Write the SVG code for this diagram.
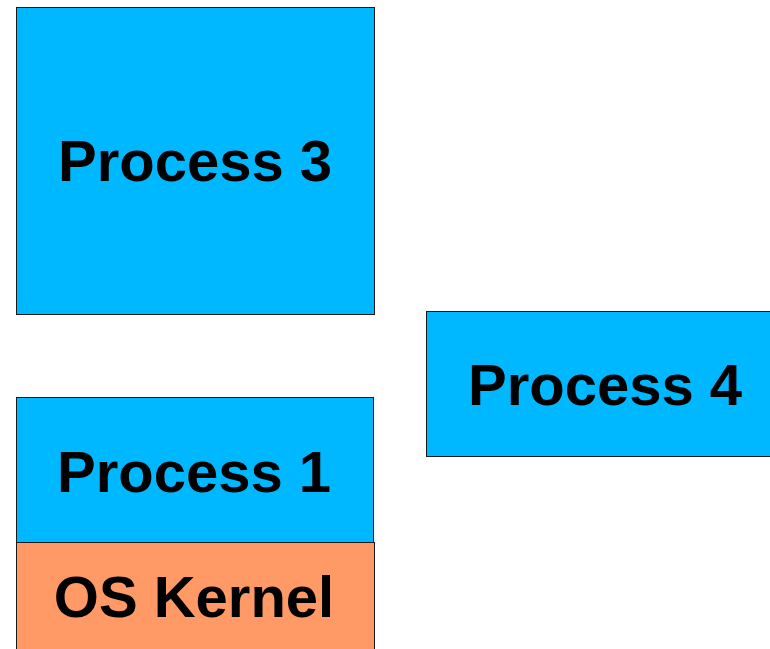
<svg xmlns="http://www.w3.org/2000/svg" width="770" height="649" viewBox="0 0 770 649">
<style>
.proc{fill:#00B8FF;stroke:#1a1a1a;stroke-width:1}
.kern{fill:#FF9966;stroke:#1a1a1a;stroke-width:1}
.lbl{font-family:"Liberation Sans",Arial,sans-serif;font-weight:bold;font-size:58px;fill:#000;text-anchor:middle}
</style>
<rect width="770" height="649" fill="#fff"/>
<g id="process3">
<rect class="proc" x="16.5" y="7.5" width="358" height="307"/>
<text class="lbl" x="195" y="181">Process 3</text>
</g>
<g id="process4">
<rect class="proc" x="426.5" y="311.5" width="360" height="145"/>
<text class="lbl" x="605" y="405">Process 4</text>
</g>
<g id="process1">
<rect class="proc" x="16.5" y="397.5" width="357" height="145"/>
<text class="lbl" x="194" y="492">Process 1</text>
</g>
<g id="oskernel">
<rect class="kern" x="16.5" y="542.5" width="358" height="120"/>
<text class="lbl" x="194" y="617">OS Kernel</text>
</g>
<g id="connectors"/>
</svg>
